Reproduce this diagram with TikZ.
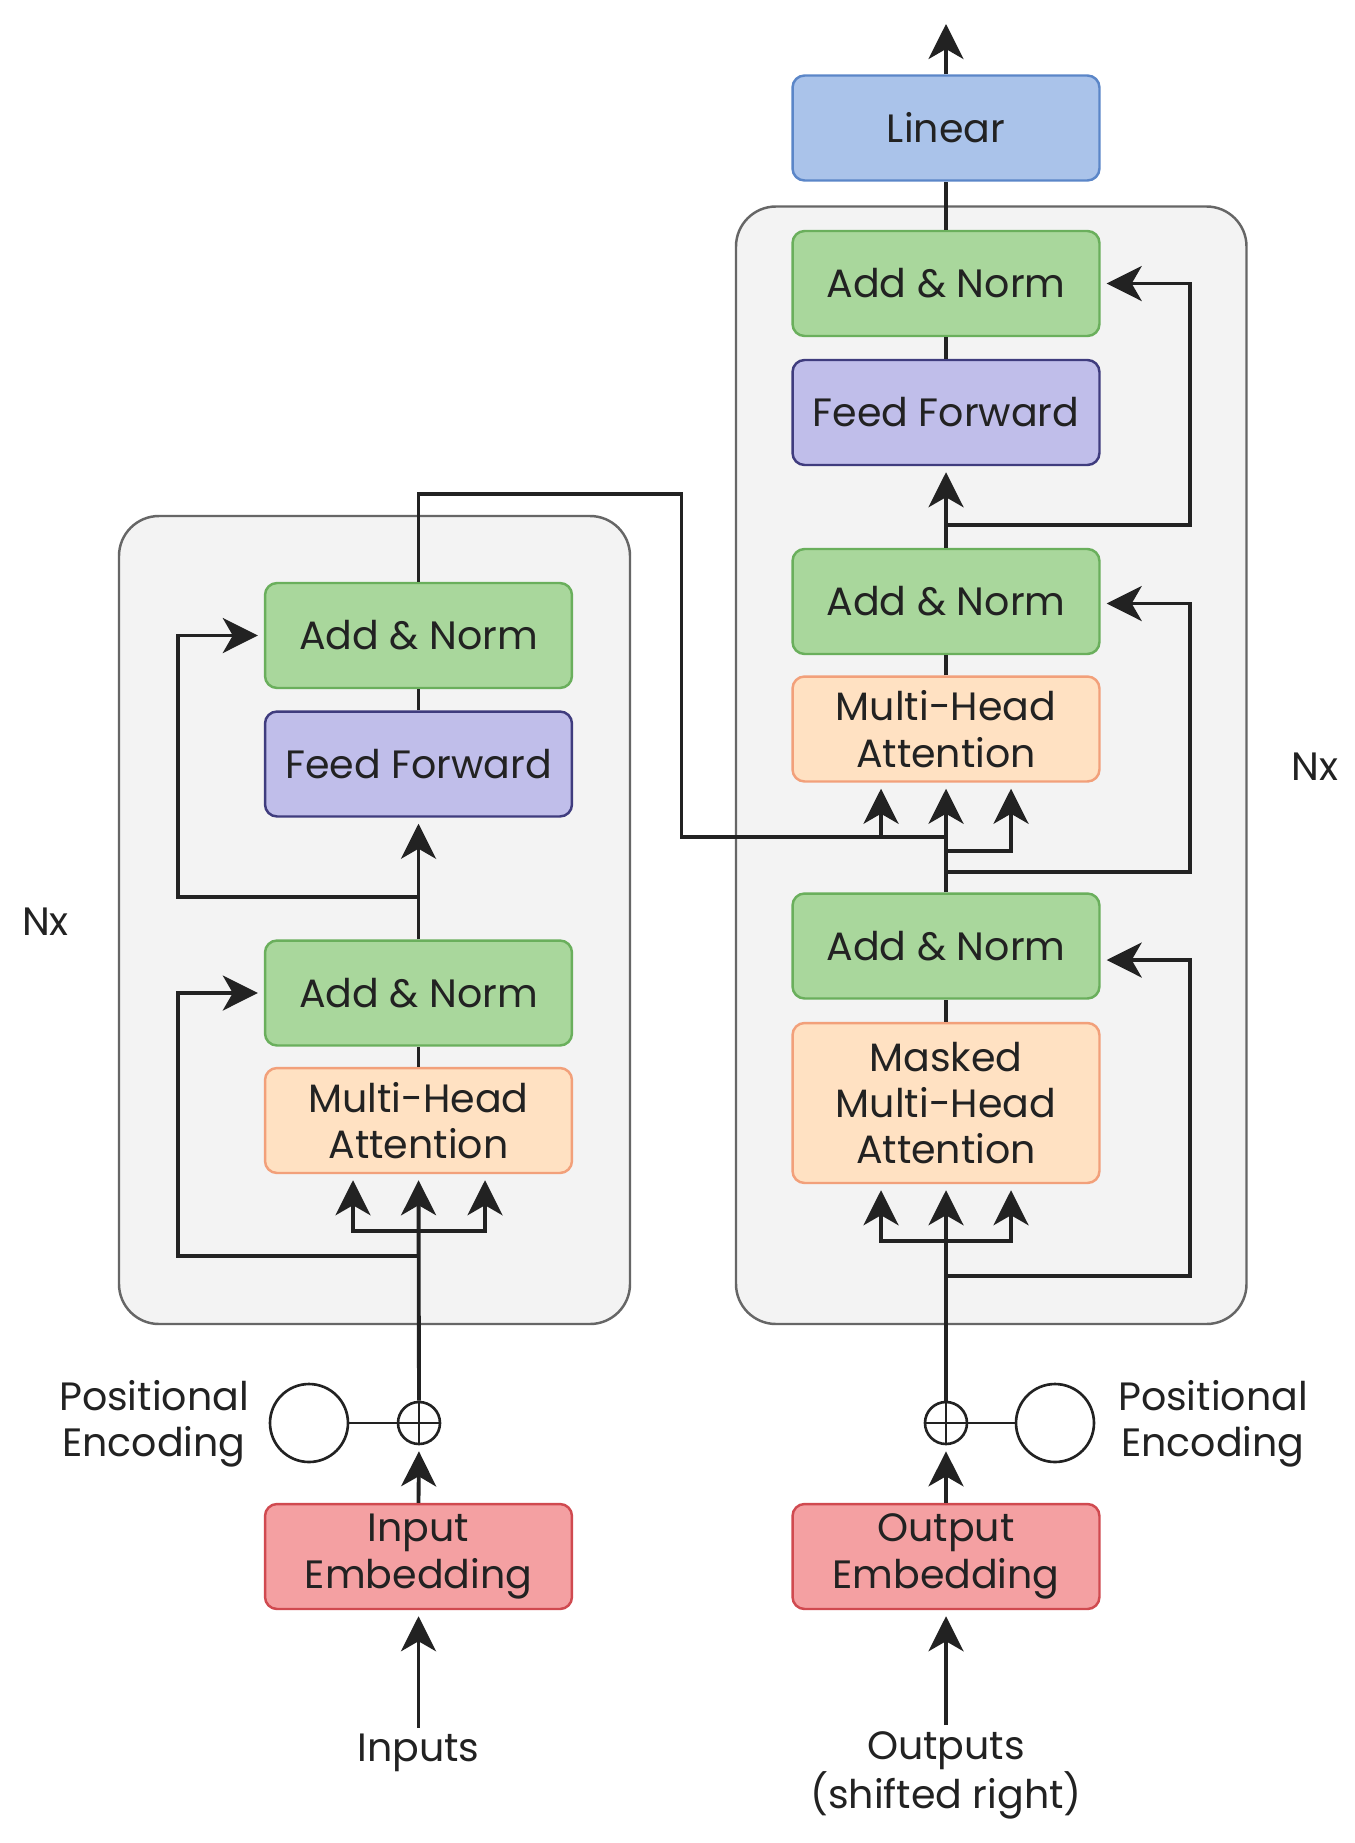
\documentclass[tikz,border=0pt]{standalone}
\usepackage{fontspec}
\setmainfont{Poppins}
\usetikzlibrary{arrows.meta,calc}
\definecolor{gfill}{HTML}{A9D79C}
\definecolor{gline}{HTML}{6AAF5C}
\definecolor{pfill}{HTML}{C0BEEA}
\definecolor{pline}{HTML}{3F3C7E}
\definecolor{ofill}{HTML}{FFE1C2}
\definecolor{oline}{HTML}{F2A07A}
\definecolor{rfill}{HTML}{F4A0A2}
\definecolor{rline}{HTML}{D04A50}
\definecolor{bfill}{HTML}{AAC3EA}
\definecolor{bline}{HTML}{5B86C8}
\definecolor{bgfill}{HTML}{F3F3F3}
\definecolor{bgline}{HTML}{666666}
\definecolor{ink}{HTML}{222222}
\begin{document}
\begin{tikzpicture}[x=0.02cm,y=-0.02cm,
  lbl/.style={font=\fontsize{22.5}{26.4}\selectfont, text=ink, align=center},
  blk/.style={lbl, draw, rounded corners=0.24cm, line width=1.4pt, minimum width=6.14cm, minimum height=2.1cm, inner sep=0pt},
  addnorm/.style={blk, fill=gfill, draw=gline},
  ffbox/.style={blk, fill=pfill, draw=pline},
  attbox/.style={blk, fill=ofill, draw=oline},
  embbox/.style={blk, fill=rfill, draw=rline},
  linbox/.style={blk, fill=bfill, draw=bline},
  stack/.style={fill=bgfill, draw=bgline, line width=1.4pt, rounded corners=0.8cm},
  wire/.style={draw=ink, line width=2.2pt},
  arr/.style={wire, -{Stealth[length=0.7cm, width=0.7cm, inset=0.2cm]}, shorten >=0.12cm},
  pecirc/.style={circle, draw=ink, line width=1.5pt, fill=white, minimum size=1.56cm, inner sep=0pt},
  plusc/.style={circle, draw=ink, line width=1.5pt, minimum size=0.84cm, inner sep=0pt},
  thin/.style={draw=ink, line width=1.5pt},
]
\useasboundingbox (0,0) rectangle (1355,1843);
\fill[white] (0,0) rectangle (1355,1843);

% stacks
\draw[stack] (119,516) rectangle (630,1324);
\draw[stack] (736,206.5) rectangle (1246.5,1324);

% encoder blocks
\node[addnorm] (eAN2) at (418.5,635.5) {Add \& Norm};
\node[ffbox]   (eFF)  at (418.5,764) {Feed Forward};
\node[addnorm] (eAN1) at (418.5,993) {Add \& Norm};
\node[attbox]  (eMHA) at (418.5,1120.5) {Multi-Head\\Attention};
\node[embbox]  (inEmb) at (418.5,1556.5) {Input\\Embedding};

% decoder blocks
\node[linbox]  (lin)  at (946,128) {Linear};
\node[addnorm] (dAN3) at (946,283.5) {Add \& Norm};
\node[ffbox]   (dFF)  at (946,412.5) {Feed Forward};
\node[addnorm] (dAN2) at (946,601.5) {Add \& Norm};
\node[attbox]  (dMHA) at (946,729) {Multi-Head\\Attention};
\node[addnorm] (dAN1) at (946,946) {Add \& Norm};
\node[attbox, minimum height=3.2cm] (dMMHA) at (946,1103) {Masked\\Multi-Head\\Attention};
\node[embbox]  (outEmb) at (946,1556.5) {Output\\Embedding};

% positional encodings
\node[pecirc] (peL) at (309,1423) {};
\node[plusc] (plusL) at (419,1423) {};
\node[pecirc] (peR) at (1055,1423) {};
\node[plusc] (plusR) at (946,1423) {};
\draw[thin] (plusL.north) -- (plusL.south) (plusL.west) -- (plusL.east);
\draw[thin] (plusR.north) -- (plusR.south) (plusR.west) -- (plusR.east);
\draw[thin] (peL.east) -- (plusL.west);
\draw[thin] (plusR.east) -- (peR.west);

% labels
\node[lbl] (peLtxt) at (154,1424) {Positional\\Encoding};
\node[lbl] (peRtxt) at (1213,1424) {Positional\\Encoding};
\node[lbl] (nxL) at (45.5,922) {Nx};
\node[lbl] (nxR) at (1315,767) {Nx};
\node[lbl] (inputs) at (418.5,1753) {Inputs};
\node[lbl] (outputs) at (946,1775) {Outputs\\(shifted right)};

% junctions
\coordinate (jEb) at (418.5,1230.7);
\coordinate (jEr1) at (418.5,1256);
\coordinate (jEr2) at (418.5,897);
\coordinate (encOut) at (946,836.6);
\coordinate (kArr) at (881,836.6);
\coordinate (qj) at (946,851);
\coordinate (jDr2) at (946,872);
\coordinate (jDr3) at (946,525);
\coordinate (jDb) at (946,1241);
\coordinate (jDr1) at (946,1276);
\coordinate (outTop) at (946,24);

% encoder wires
\draw[arr] (inputs.north) -- (inEmb.south);
\draw[arr] (inEmb.north) -- (plusL.south);
\draw[arr] (plusL.north) -- (eMHA.south);
\draw[arr] (jEb) -| ($(eMHA.south)+(-65.5,0)$);
\draw[arr] (jEb) -| ($(eMHA.south)+(66.5,0)$);
\draw[arr] (jEr1) -- (178,1256) |- (eAN1.west);
\draw[wire] (eMHA.north) -- (eAN1.south);
\draw[arr] (eAN1.north) -- (eFF.south);
\draw[arr] (jEr2) -- (178,897) |- (eAN2.west);
\draw[wire] (eFF.north) -- (eAN2.south);
\draw[wire] (eAN2.north) |- (681.5,494) |- (encOut);
\draw[arr] (kArr) -- ($(dMHA.south)+(-65,0)$);

% decoder wires
\draw[arr] (outputs.north) -- (outEmb.south);
\draw[arr] (outEmb.north) -- (plusR.south);
\draw[arr] (plusR.north) -- (dMMHA.south);
\draw[arr] (jDb) -| ($(dMMHA.south)+(-65,0)$);
\draw[arr] (jDb) -| ($(dMMHA.south)+(65,0)$);
\draw[arr] (jDr1) -- (1190,1276) |- ($(dAN1.east)+(0,14)$);
\draw[wire] (dMMHA.north) -- (dAN1.south);
\draw[wire] (dAN1.north) -- (qj);
\draw[arr] (qj) -- (dMHA.south);
\draw[arr] (qj) -| ($(dMHA.south)+(65,0)$);
\draw[arr] (jDr2) -- (1190,872) |- ($(dAN2.east)+(0,2)$);
\draw[wire] (dMHA.north) -- (dAN2.south);
\draw[arr] (dAN2.north) -- (dFF.south);
\draw[arr] (jDr3) -- (1190,525) |- (dAN3.east);
\draw[wire] (dFF.north) -- (dAN3.south);
\draw[wire] (dAN3.north) -- (lin.south);
\draw[arr, shorten >=0pt] (lin.north) -- (outTop);
\end{tikzpicture}
\end{document}
